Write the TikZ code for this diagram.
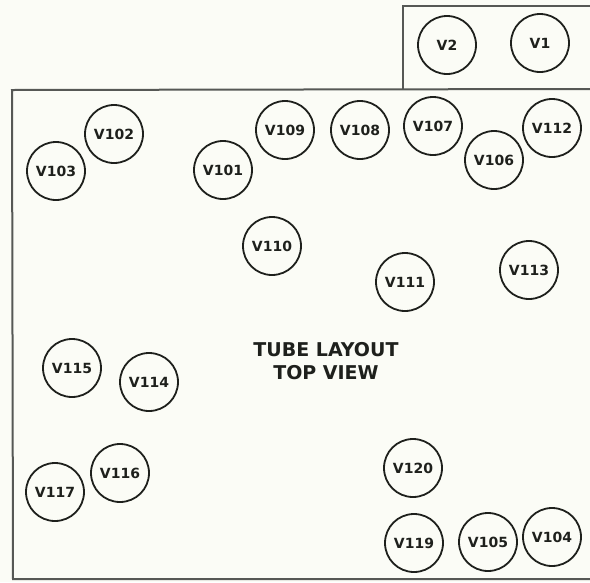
\documentclass[tikz,border=0pt]{standalone}
\usepackage{fontspec}
\setmainfont{DejaVu Sans}
\definecolor{paper}{HTML}{FBFCF6}
\definecolor{ink}{HTML}{1E201C}
\tikzset{
  tube/.style={draw=ink, line width=1.8pt, circle, minimum size=58pt, inner sep=0pt,
    font=\fontsize{14}{14}\selectfont\bfseries, text=ink},
  chassis/.style={draw=ink!75, line width=2pt},
}
\begin{document}
\begin{tikzpicture}[x=1pt, y=-1pt]
% fundo
\fill[paper] (0,0) rectangle (590,582);
\useasboundingbox (0,0) rectangle (590,582);
% chassi
\coordinate (tl) at (12,90);
\coordinate (tr) at (590,89);
\coordinate (bl) at (13,579);
\coordinate (br) at (590,579);
\coordinate (sb) at (403,89);
\coordinate (st) at (403,6);
\coordinate (sr) at (590,6);
\draw[chassis] (tr) -- (tl) -- (bl) -- (br);
\draw[chassis] (sb) -- (st) -- (sr);
% valvulas
\foreach \n/\x/\y in {V2/447/45, V1/540/43,
    V102/114/134, V103/56/171, V101/223/170, V109/285/130, V108/360/130,
    V107/433/126, V106/494/160, V112/552/128,
    V110/272/246, V111/405/282, V113/529/270,
    V115/72/368, V114/149/382, V117/55/492, V116/120/473,
    V120/413/468, V119/414/543, V105/488/542, V104/552/537}
  \node[tube] (\n) at (\x,\y) {\n};
% titulo
\node[font=\fontsize{19}{23}\selectfont\bfseries, text=ink, align=center] (title)
  at (326,361) {TUBE LAYOUT\\TOP VIEW};
\end{tikzpicture}
\end{document}
